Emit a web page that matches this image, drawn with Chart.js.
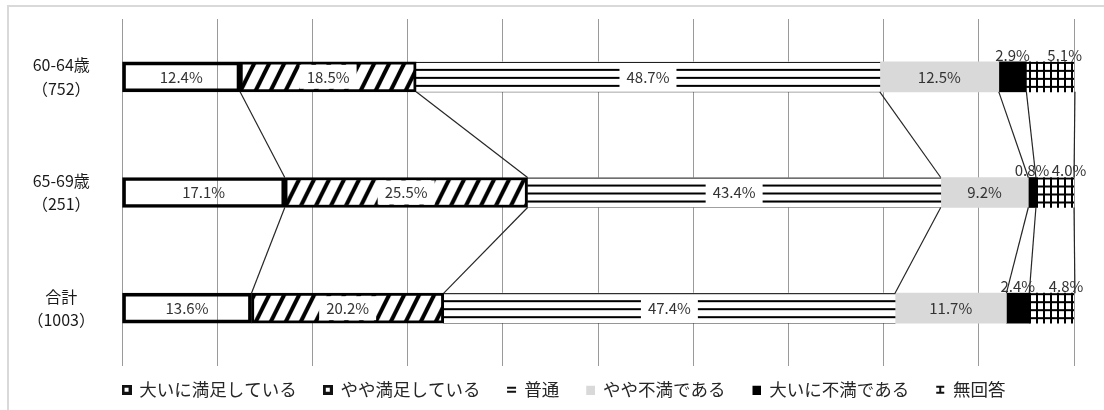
<!DOCTYPE html>
<html lang="ja">
<head>
<meta charset="utf-8">
<title>満足度</title>
<script src="https://cdn.jsdelivr.net/npm/chart.js@4.4.1/dist/chart.umd.min.js"></script>
<style>
  html, body { margin: 0; padding: 0; background: #fff; overflow: hidden; }
  #wrap { position: relative; width: 1104px; height: 410px; }
  #frame {
    position: absolute; left: 7px; top: 5px; width: 1200px; height: 500px;
    border-top: 2px solid #d9d9d9; border-left: 2px solid #d9d9d9;
  }
  #chart { position: absolute; left: 0; top: 0; }
</style>
</head>
<body>
<div id="wrap">
  <div id="frame"></div>
  <canvas id="chart" width="1104" height="410"></canvas>
</div>
<script>
// categorias (年齢層 + 回答者数)
const categories = [["60-64歳", "（752）"], ["65-69歳", "（251）"], ["合計", "（1003）"]];
const seriesNames = ["大いに満足している", "やや満足している", "普通", "やや不満である", "大いに不満である", "無回答"];

// % por categoria
const verySatisfied = [12.4, 17.1, 13.6];
const satisfied = [18.5, 25.5, 20.2];
const neutral = [48.7, 43.4, 47.4];
const dissatisfied = [12.5, 9.2, 11.7];
const veryDissatisfied = [2.9, 0.8, 2.4];
const noAnswer = [5.1, 4.0, 4.8];

const BAR_H = 30;
const FONT = "'Noto Sans CJK JP', 'Noto Sans', sans-serif";

// =======================
// padrões de preenchimento
// =======================
function tile(w, h, draw) {
  const c = document.createElement("canvas");
  c.width = w;
  c.height = h;
  const g = c.getContext("2d");
  g.fillStyle = "#fff";
  g.fillRect(0, 0, w, h);
  g.fillStyle = "#000";
  g.strokeStyle = "#000";
  draw(g, w, h);
  return c;
}

const hatchTile = tile(15, BAR_H, (g, w, h) => {
  g.lineWidth = 4;
  [-w, 0, w].forEach((x0) => {
    g.beginPath();
    g.moveTo(x0, h);
    g.lineTo(x0 + w, 0);
    g.stroke();
  });
});

const linesTile = tile(4, BAR_H, (g, w) => {
  g.fillRect(0, 0, w, 1);
  g.fillRect(0, 7, w, 2);
  g.fillRect(0, 15, w, 2);
  g.fillRect(0, 23, w, 2);
});

const gridTile = tile(7, 8, (g, w, h) => {
  g.fillRect(0, 0, 2, h);
  g.fillRect(0, 0, w, 2);
});

// padrão alinhado com o topo de cada barra
function patternFor(tileCanvas) {
  return (ctx) => {
    const chart = ctx.chart;
    const pat = chart.ctx.createPattern(tileCanvas, "repeat");
    const yScale = chart.scales.y;
    if (yScale && ctx.dataIndex !== undefined) {
      const top = yScale.getPixelForValue(ctx.dataIndex) - BAR_H / 2;
      if (Number.isFinite(top)) pat.setTransform(new DOMMatrix().translate(0, top));
    }
    return pat;
  };
}

// ícones da legenda
function icon(w, h, draw) {
  const c = document.createElement("canvas");
  c.width = w;
  c.height = h;
  draw(c.getContext("2d"));
  return c;
}
const boxIcon = () =>
  icon(10, 10, (g) => {
    g.fillStyle = "#111";
    g.fillRect(0, 0, 10, 10);
    g.fillStyle = "#fff";
    g.fillRect(3, 3, 4, 4);
  });
const legendIcons = [
  boxIcon(),
  boxIcon(),
  icon(11, 10, (g) => {
    g.fillStyle = "#111";
    g.fillRect(1, 2, 9, 2);
    g.fillRect(1, 6, 9, 2);
  }),
  icon(10, 10, (g) => {
    g.fillStyle = "#d9d9d9";
    g.fillRect(1, 1, 9, 9);
  }),
  icon(10, 10, (g) => {
    g.fillStyle = "#000";
    g.fillRect(1, 1, 9, 9);
  }),
  icon(10, 10, (g) => {
    g.fillStyle = "#111";
    g.fillRect(1, 1, 8, 2);
    g.fillRect(4, 1, 2, 8);
    g.fillRect(1, 7, 8, 2);
  }),
];

// =======================
// linhas de série + rótulos
// =======================
const seriesLines = {
  id: "seriesLines",
  afterDatasetsDraw(chart) {
    const ctx = chart.ctx;
    ctx.save();
    ctx.strokeStyle = "#262626";
    ctx.lineWidth = 1.2;
    chart.data.datasets.forEach((ds, d) => {
      const els = chart.getDatasetMeta(d).data;
      for (let i = 0; i < els.length - 1; i++) {
        const a = els[i].getProps(["x", "y", "height"], true);
        const b = els[i + 1].getProps(["x", "y", "height"], true);
        ctx.beginPath();
        ctx.moveTo(a.x, a.y + a.height / 2);
        ctx.lineTo(b.x, b.y - b.height / 2);
        ctx.stroke();
      }
    });
    ctx.restore();
  },
};

const segmentLabels = {
  id: "segmentLabels",
  afterDatasetsDraw(chart) {
    const ctx = chart.ctx;
    ctx.save();
    ctx.font = "15px " + FONT;
    ctx.textAlign = "center";
    ctx.textBaseline = "middle";
    chart.data.datasets.forEach((ds, d) => {
      chart.getDatasetMeta(d).data.forEach((el, i) => {
        const txt = ds.data[i].toFixed(1) + "%";
        const { x, y, base, height } = el.getProps(["x", "y", "base", "height"], true);
        let cx = (x + base) / 2;
        let cy = y;
        // fatias pequenas: rótulo acima da barra
        if (d >= 4) {
          cy = y - height / 2 - 7;
          if (d === 5) cx += 14;
        }
        if (d === 1 || d === 2) {
          const w = ctx.measureText(txt).width + 14;
          ctx.fillStyle = "#fff";
          ctx.fillRect(cx - w / 2, y - height / 2 + 3, w, height - 6);
        }
        ctx.fillStyle = "#333";
        ctx.fillText(txt, cx, cy);
      });
    });
    ctx.restore();
  },
};

// legenda: centralizada um pouco à direita e mais perto do gráfico
const legendPos = {
  id: "legendPos",
  afterLayout(chart) {
    const lg = chart.legend;
    lg.left = chart.chartArea.left - 68;
    lg.right = chart.chartArea.right;
    lg.top -= 12;
    lg.bottom -= 12;
  },
};

// =======================
// gráfico
// =======================
const ctx = document.getElementById("chart").getContext("2d");
const chart = new Chart(ctx, {
  type: "bar",
  data: {
    labels: categories,
    datasets: [
      { label: seriesNames[0], data: verySatisfied, backgroundColor: "rgba(0,0,0,0)", borderColor: "#000", borderWidth: 3 },
      { label: seriesNames[1], data: satisfied, backgroundColor: patternFor(hatchTile), borderColor: "#000", borderWidth: 3 },
      { label: seriesNames[2], data: neutral, backgroundColor: patternFor(linesTile), borderWidth: 0 },
      { label: seriesNames[3], data: dissatisfied, backgroundColor: "#d9d9d9", borderWidth: 0 },
      { label: seriesNames[4], data: veryDissatisfied, backgroundColor: "#000", borderWidth: 0 },
      { label: seriesNames[5], data: noAnswer, backgroundColor: patternFor(gridTile), borderWidth: 0 },
    ],
  },
  options: {
    indexAxis: "y",
    responsive: false,
    animation: false,
    barThickness: BAR_H,
    borderSkipped: false,
    layout: { padding: { top: 19, right: 30, left: 8, bottom: 0 } },
    scales: {
      x: {
        stacked: true,
        min: 0,
        max: 100,
        ticks: { display: false, stepSize: 10 },
        grid: { color: "#9a9a9a", lineWidth: 1, drawTicks: false },
        border: { display: false },
      },
      y: {
        stacked: true,
        grid: { display: false },
        border: { display: false },
        ticks: {
          color: "#1a1a1a",
          font: { family: FONT, size: 16, lineHeight: 1.45 },
          crossAlign: "center",
          padding: 19,
        },
        afterFit: (scale) => {
          scale.width = 114;
          scale.paddingTop = 0;
          scale.paddingBottom = 0;
        },
      },
    },
    plugins: {
      tooltip: { enabled: false },
      legend: {
        position: "bottom",
        maxHeight: 44,
        labels: {
          usePointStyle: true,
          boxWidth: 8,
          boxHeight: 10,
          padding: 27,
          color: "#262626",
          font: { family: FONT, size: 17.5 },
          generateLabels: (c) =>
            c.data.datasets.map((ds, i) => ({
              text: ds.label,
              pointStyle: legendIcons[i],
              fillStyle: "#000",
              strokeStyle: "#000",
              lineWidth: 0,
              hidden: false,
              datasetIndex: i,
              fontColor: "#262626",
            })),
        },
      },
    },
  },
  plugins: [seriesLines, segmentLabels, legendPos],
});
</script>
</body>
</html>
